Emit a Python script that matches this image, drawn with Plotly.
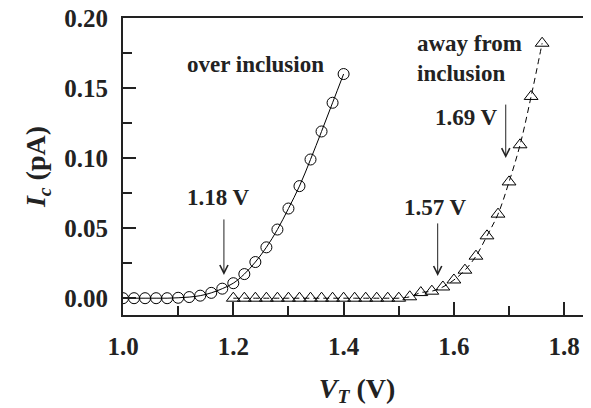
import plotly.graph_objects as go

# over inclusion (circles)
vt_over = [1.00, 1.02, 1.04, 1.06, 1.08, 1.10, 1.12, 1.14, 1.16, 1.18, 1.20,
           1.22, 1.24, 1.26, 1.28, 1.30, 1.32, 1.34, 1.36, 1.38, 1.40]
ic_over = [0.0, 0.0, 0.0, 0.0, 0.0, 0.0003, 0.0008, 0.0018, 0.0038, 0.0068, 0.0107,
           0.0172, 0.0258, 0.0363, 0.049, 0.064, 0.080, 0.099, 0.119, 0.1395, 0.160]

# away from inclusion (triangles)
vt_away = [1.20, 1.22, 1.24, 1.26, 1.28, 1.30, 1.32, 1.34, 1.36, 1.38, 1.40,
           1.42, 1.44, 1.46, 1.48, 1.50, 1.52, 1.54, 1.56, 1.58, 1.60, 1.62,
           1.64, 1.66, 1.68, 1.70, 1.72, 1.74, 1.76]
ic_away = [0.0, 0.0, 0.0, 0.0, 0.0, 0.0, 0.0, 0.0, 0.0, 0.0, 0.0,
           0.0, 0.0, 0.0, 0.0, 0.0, 0.001, 0.004, 0.005, 0.008, 0.013, 0.020,
           0.030, 0.0445, 0.060, 0.083, 0.1095, 0.144, 0.182]

x_ticks = [1.0, 1.2, 1.4, 1.6, 1.8]
y_ticks = [0.00, 0.05, 0.10, 0.15, 0.20]

# onset markers: (label, arrow tip x, arrow tip y)
onset_labels = ["1.18 V", "1.57 V", "1.69 V"]
onset_x = [1.183, 1.5706, 1.694]
onset_y = [0.0166, 0.0159, 0.100]
label_x = [1.174, 1.5658, 1.622]
label_y = [0.0716, 0.0645, 0.1288]
arrow_len = [57, 54, 55]

FONT = "Liberation Serif, Times New Roman, serif"
INK = "#222"

fig = go.Figure()
fig.add_trace(go.Scatter(
    x=vt_over, y=ic_over, mode="lines+markers", line_shape="spline",
    line=dict(color="black", width=1),
    marker=dict(symbol="circle-open", size=11, color="black", line=dict(width=1)),
    showlegend=False))
fig.add_trace(go.Scatter(
    x=vt_away, y=ic_away, mode="lines+markers", line_shape="spline",
    line=dict(color="black", width=1, dash="6px,4px"),
    marker=dict(symbol="triangle-up-open", size=12, color="black", line=dict(width=1)),
    showlegend=False))

ann = []
for lab, tx, ty, lx, ly, al in zip(onset_labels, onset_x, onset_y, label_x, label_y, arrow_len):
    ann.append(dict(x=tx, y=ty, xref="x", yref="y", text="", showarrow=True,
                    ax=0, ay=-al, arrowhead=5, arrowsize=1.6, arrowwidth=1,
                    arrowcolor=INK))
    ann.append(dict(x=lx, y=ly, xref="x", yref="y", text="<b>" + lab + "</b>",
                    showarrow=False, font=dict(family=FONT, size=23, color=INK)))
ann.append(dict(x=1.2394, y=0.1666, xref="x", yref="y", text="<b>over inclusion</b>",
                showarrow=False, font=dict(family=FONT, size=23, color=INK)))
ann.append(dict(x=1.5295, y=0.1712, xref="x", yref="y", xanchor="left", align="left",
                text="<b>away from<br>inclusion</b>",
                showarrow=False, font=dict(family=FONT, size=23, color=INK)))

# page body has an 8px margin; size the figure so the plot area lands where the reference has it
fig.update_layout(
    width=583, height=400,
    margin=dict(l=115, r=0, t=10, b=93),
    plot_bgcolor="white", paper_bgcolor="white",
    annotations=ann,
    font=dict(family=FONT, color=INK),
)
fig.update_xaxes(
    range=[1.0, 1.8486], tickvals=x_ticks, ticktext=[f"{v:.1f}" for v in x_ticks],
    automargin=False, ticklabeloverflow="allow",
    showgrid=False, zeroline=False, showline=True, linewidth=2, linecolor=INK,
    mirror=True, ticks="inside", ticklen=13, tickwidth=2, tickcolor=INK,
    minor=dict(ticks="inside", ticklen=9, tickwidth=2, tickcolor=INK, dtick=0.1, tick0=1.1),
    tickfont=dict(family=FONT, size=25, color=INK, weight="bold"),
    ticklabelstandoff=8,
    title=dict(text="<b><i>V</i><sub><i>T</i></sub> (V)</b>",
               font=dict(family=FONT, size=28, color=INK), standoff=19),
)
fig.update_yaxes(
    range=[-0.012, 0.20], tickvals=y_ticks, ticktext=[f"{v:.2f}" for v in y_ticks],
    automargin=False, ticklabeloverflow="allow",
    showgrid=False, zeroline=False, showline=True, linewidth=2, linecolor=INK,
    mirror=False, ticks="inside", ticklen=13, tickwidth=2, tickcolor=INK,
    minor=dict(ticks="inside", ticklen=9, tickwidth=2, tickcolor=INK, dtick=0.025, tick0=0.025),
    tickfont=dict(family=FONT, size=25, color=INK, weight="bold"),
    ticklabelstandoff=8,
    title=dict(text="<b><i>I</i><sub><i>c</i></sub> (pA)</b>",
               font=dict(family=FONT, size=28, color=INK), standoff=10),
)

fig.write_html("out.html")
